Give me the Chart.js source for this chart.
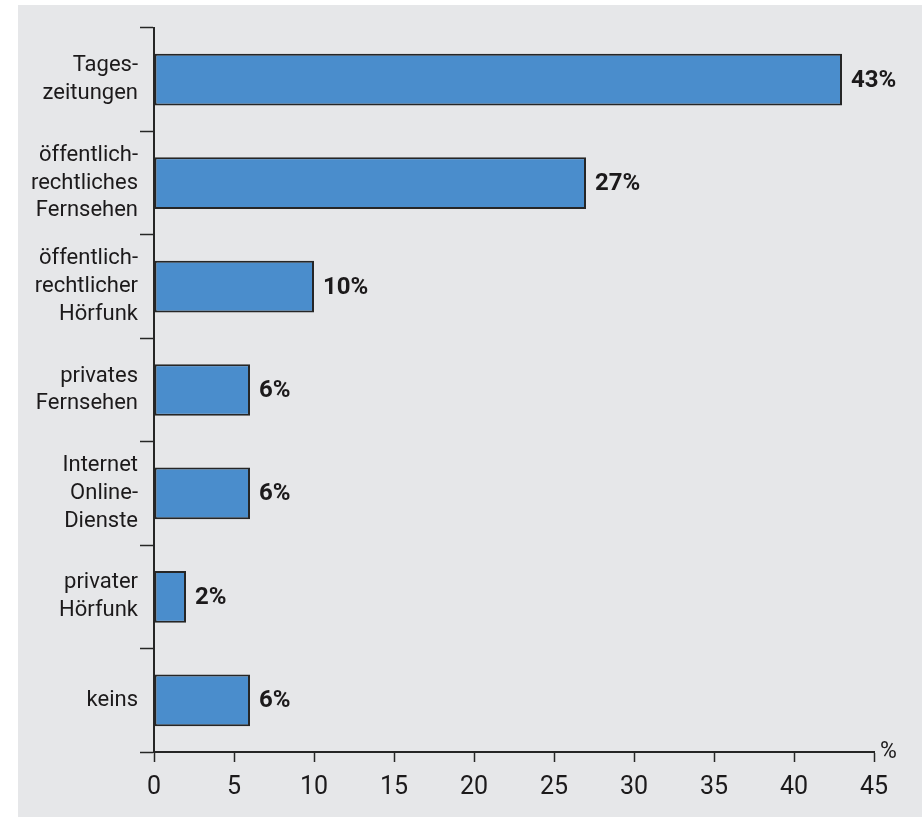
<!DOCTYPE html>
<html lang="de">
<head>
<meta charset="utf-8">
<title>Medien</title>
<script src="https://cdn.jsdelivr.net/npm/chart.js@4"></script>
<style>
    html, body { margin: 0; padding: 0; background: #ffffff; }
    #wrap {
        position: absolute;
        left: 18px;
        top: 5px;
        width: 904px;
        height: 812px;
        background: #e6e7e9;
    }
</style>
</head>
<body>
<div id="wrap"><canvas id="chart"></canvas></div>
<script>
// Data
const categories = [
    ['Tages-', 'zeitungen'],
    ['öffentlich-', 'rechtliches', 'Fernsehen'],
    ['öffentlich-', 'rechtlicher', 'Hörfunk'],
    ['privates', 'Fernsehen'],
    ['Internet', 'Online-', 'Dienste'],
    ['privater', 'Hörfunk'],
    ['keins']
];
const values = [43, 27, 10, 6, 6, 2, 6];
const xTicks = [0, 5, 10, 15, 20, 25, 30, 35, 40, 45];
const unitLabel = '%';

const textColor = '#1c1a1b';
const lineColor = '#262626';
const fontFamily = 'Roboto, "Liberation Sans", sans-serif';

// Value labels next to the bars and the unit at the axis end
const labelPlugin = {
    id: 'barLabels',
    afterDatasetsDraw(chart) {
        const ctx = chart.ctx;
        const meta = chart.getDatasetMeta(0);
        ctx.save();
        ctx.fillStyle = textColor;
        ctx.font = 'bold 24px ' + fontFamily;
        ctx.textAlign = 'left';
        ctx.textBaseline = 'middle';
        meta.data.forEach((bar, i) => {
            ctx.fillText(values[i] + '%', bar.x + 9, bar.y + 1);
        });
        const area = chart.chartArea;
        ctx.font = '23px ' + fontFamily;
        ctx.fillText(unitLabel, area.right + 6, area.bottom);
        ctx.restore();
    }
};

new Chart(document.getElementById('chart'), {
    type: 'bar',
    data: {
        labels: categories,
        datasets: [{
            data: values,
            backgroundColor: '#4a8dcc',
            borderColor: lineColor,
            borderWidth: 2,
            borderSkipped: false,
            barPercentage: 0.5,
            categoryPercentage: 1
        }]
    },
    options: {
        indexAxis: 'y',
        responsive: true,
        maintainAspectRatio: false,
        animation: false,
        layout: {
            padding: { top: 23, right: 48, bottom: 0, left: 0 }
        },
        plugins: {
            legend: { display: false },
            tooltip: { enabled: false }
        },
        scales: {
            x: {
                min: xTicks[0],
                max: xTicks[xTicks.length - 1],
                afterBuildTicks: function(scale) {
                    scale.ticks = xTicks.map(v => ({ value: v }));
                },
                afterFit: function(scale) {
                    scale.height = 65;
                },
                grid: {
                    drawOnChartArea: false,
                    drawTicks: true,
                    tickLength: 10,
                    tickWidth: 1.5,
                    tickColor: lineColor
                },
                border: {
                    display: true,
                    color: lineColor,
                    width: 2
                },
                ticks: {
                    color: textColor,
                    padding: 11,
                    maxRotation: 0,
                    autoSkip: false,
                    font: { family: fontFamily, size: 25 }
                }
            },
            y: {
                offset: true,
                afterFit: function(scale) {
                    scale.width = 136;
                },
                grid: {
                    offset: true,
                    drawOnChartArea: false,
                    drawTicks: true,
                    tickLength: 14,
                    tickWidth: 1.5,
                    tickColor: lineColor
                },
                border: {
                    display: true,
                    color: lineColor,
                    width: 2
                },
                ticks: {
                    color: textColor,
                    padding: 2,
                    autoSkip: false,
                    font: { family: fontFamily, size: 22, lineHeight: 1.26 }
                }
            }
        }
    },
    plugins: [labelPlugin]
});
</script>
</body>
</html>
